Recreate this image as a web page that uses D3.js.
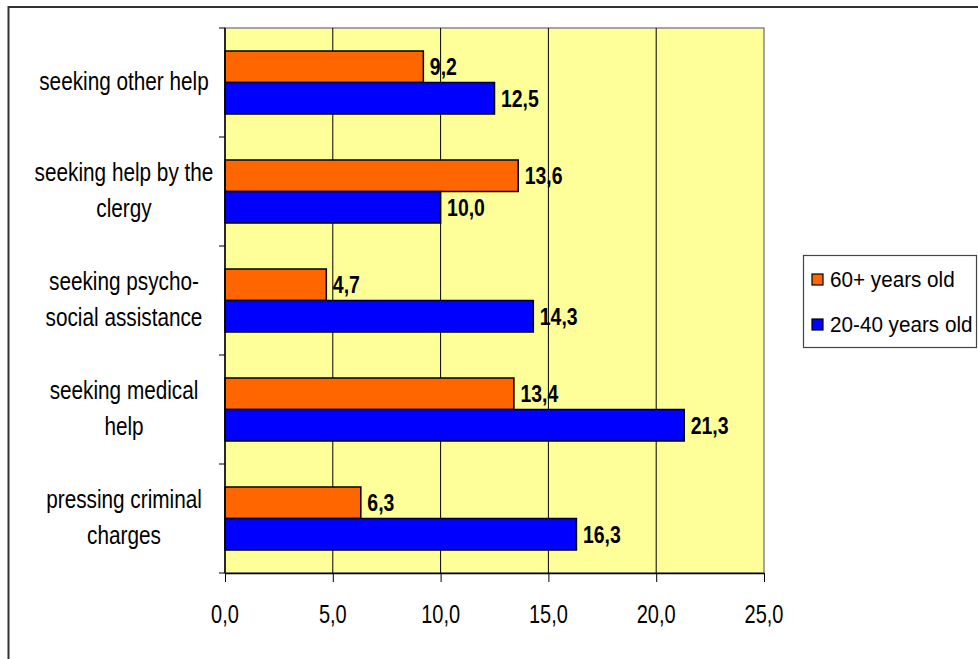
<!DOCTYPE html>
<html>
<head>
<meta charset="utf-8">
<script src="https://cdn.jsdelivr.net/npm/d3@7"></script>
<style>
  html, body { margin: 0; padding: 0; background: #fff; }
  svg { display: block; }
  text { font-family: "Liberation Sans", Arial, sans-serif; fill: #000; }
</style>
</head>
<body>
<svg id="chart" width="978" height="659"></svg>
<script>
// ---- data ----
const categories = [
  "seeking other help",
  "seeking help by the clergy",
  "seeking psycho-social assistance",
  "seeking medical help",
  "pressing criminal charges"
];
const categoryLines = [
  ["seeking other help"],
  ["seeking help by the", "clergy"],
  ["seeking psycho-", "social assistance"],
  ["seeking medical", "help"],
  ["pressing criminal", "charges"]
];
const seriesNames = ["60+ years old", "20-40 years old"];
const values60 = [9.2, 13.6, 4.7, 13.4, 6.3];
const values2040 = [12.5, 10.0, 14.3, 21.3, 16.3];
const xTicks = [0, 5, 10, 15, 20, 25];
const colors = ["#FF6600", "#0000FF"];

// ---- layout ----
const svg = d3.select("#chart");
const plot = { left: 225, right: 764, top: 28, bottom: 573 };

const x = d3.scaleLinear().domain([0, 25]).range([plot.left, plot.right]);
const y = d3.scaleBand().domain(categories).range([plot.top, plot.bottom]);
const inner = d3.scaleBand().domain(seriesNames).range([0, 63]);

function ctext(g, tx, ty, str, opts) {
  const sx = opts.sx || 0.82;
  const t = g.append("text")
    .attr("transform", `translate(${tx},${ty}) scale(${sx},1)`)
    .attr("font-size", opts.size || 25)
    .attr("text-anchor", opts.anchor || "start")
    .text(str);
  if (opts.bold) t.attr("font-weight", "bold");
  return t;
}

// outer frame
svg.append("rect")
  .attr("x", 8.5).attr("y", 7)
  .attr("width", 1100).attr("height", 800)
  .attr("fill", "none").attr("stroke", "#333").attr("stroke-width", 2);

// plot background
svg.append("rect")
  .attr("x", plot.left).attr("y", plot.top)
  .attr("width", plot.right - plot.left).attr("height", plot.bottom - plot.top)
  .attr("fill", "#FFFF99").attr("stroke", "#888").attr("stroke-width", 1.5);

// gridlines
svg.append("g").selectAll("line")
  .data(xTicks.slice(1, -1))
  .join("line")
  .attr("x1", d => x(d)).attr("x2", d => x(d))
  .attr("y1", plot.top).attr("y2", plot.bottom)
  .attr("stroke", "#000").attr("stroke-width", 1);

// bars
const groups = svg.append("g").selectAll("g")
  .data(categories)
  .join("g")
  .attr("transform", d => `translate(0,${y(d) + (y.bandwidth() - 63) / 2})`);

groups.each(function (c, i) {
  const g = d3.select(this);
  const d = [
    { s: seriesNames[0], v: values60[i], col: colors[0] },
    { s: seriesNames[1], v: values2040[i], col: colors[1] }
  ];
  g.selectAll("rect").data(d).join("rect")
    .attr("x", x(0))
    .attr("y", e => inner(e.s))
    .attr("width", e => x(e.v) - x(0))
    .attr("height", inner.bandwidth())
    .attr("fill", e => e.col)
    .attr("stroke", "#000").attr("stroke-width", 1.5);
  d.forEach(e => {
    ctext(g, x(e.v) + 6.5, inner(e.s) + inner.bandwidth() / 2 + 8.5,
      e.v.toFixed(1).replace(".", ","), { bold: true, size: 24, sx: 0.81 });
  });
});

// y axis
const yAxisG = svg.append("g");
yAxisG.append("line")
  .attr("x1", plot.left).attr("x2", plot.left)
  .attr("y1", plot.top).attr("y2", plot.bottom)
  .attr("stroke", "#000").attr("stroke-width", 1.5);
const yBounds = categories.map(c => y(c)).concat([plot.bottom]);
yAxisG.selectAll("line.tk").data(yBounds).join("line")
  .attr("class", "tk")
  .attr("x1", plot.left - 6).attr("x2", plot.left)
  .attr("y1", d => d).attr("y2", d => d)
  .attr("stroke", "#000").attr("stroke-width", 1);

categories.forEach((c, i) => {
  const lines = categoryLines[i];
  const cy = y(c) + y.bandwidth() / 2;
  const lh = 36;
  lines.forEach((ln, k) => {
    const yy = cy + 7.5 + (k - (lines.length - 1) / 2) * lh;
    ctext(yAxisG, 124, yy, ln, { anchor: "middle", size: 25, sx: 0.83 });
  });
});

// x axis
const xAxisG = svg.append("g")
  .attr("transform", `translate(0,${plot.bottom})`)
  .call(d3.axisBottom(x).tickValues(xTicks).tickSize(9).tickSizeOuter(0).tickFormat(""));
xAxisG.select(".domain").attr("stroke", "#000").attr("stroke-width", 1.5);
xAxisG.selectAll(".tick line").attr("stroke", "#000");
xTicks.forEach(t => {
  ctext(xAxisG, x(t), 50, t.toFixed(1).replace(".", ","), { anchor: "middle", size: 25, sx: 0.8 });
});

// legend
const lg = svg.append("g");
lg.append("rect")
  .attr("x", 803.5).attr("y", 255.5).attr("width", 173).attr("height", 92)
  .attr("fill", "#fff").attr("stroke", "#444").attr("stroke-width", 1.2);
seriesNames.forEach((s, i) => {
  const yy = 279.5 + i * 45;
  lg.append("rect")
    .attr("x", 812).attr("y", yy - 5.5).attr("width", 11).attr("height", 11)
    .attr("fill", colors[i]).attr("stroke", "#000").attr("stroke-width", 1.2);
  ctext(lg, 830, yy + 7.5, s, { size: 22, sx: 0.94 });
});
</script>
</body>
</html>
